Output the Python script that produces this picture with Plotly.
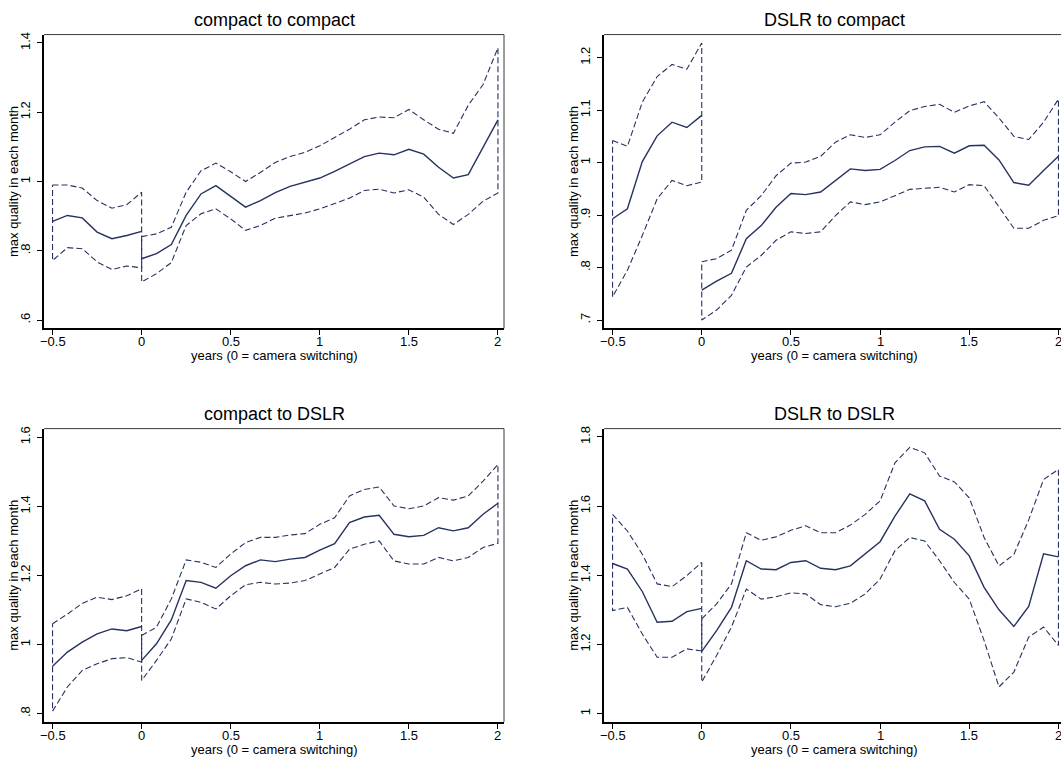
import plotly.graph_objects as go

# ---------------- data ----------------
MONTHS_PRE = [-6, -5, -4, -3, -2, -1, 0]
MONTHS_POST = list(range(0, 25))

TITLES = ["compact to compact", "DSLR to compact", "compact to DSLR", "DSLR to DSLR"]

# compact to compact
cc_pre_mid = [0.885, 0.902, 0.895, 0.854, 0.835, 0.844, 0.856]
cc_pre_up = [0.990, 0.990, 0.981, 0.945, 0.923, 0.933, 0.969]
cc_pre_lo = [0.772, 0.809, 0.806, 0.768, 0.746, 0.756, 0.751]
cc_post_mid = [0.777, 0.792, 0.818, 0.902, 0.964, 0.988, 0.957, 0.926, 0.945, 0.968, 0.986, 0.998,
               1.010, 1.029, 1.050, 1.072, 1.082, 1.077, 1.093, 1.079, 1.041, 1.010, 1.020, 1.100, 1.178]
cc_post_up = [0.841, 0.849, 0.868, 0.969, 1.031, 1.053, 1.028, 1.000, 1.026, 1.055, 1.072, 1.084,
              1.103, 1.127, 1.151, 1.178, 1.186, 1.184, 1.208, 1.178, 1.151, 1.139, 1.220, 1.280, 1.386]
cc_post_lo = [0.710, 0.734, 0.766, 0.873, 0.907, 0.921, 0.892, 0.859, 0.873, 0.894, 0.902, 0.909,
              0.921, 0.937, 0.952, 0.974, 0.978, 0.967, 0.976, 0.955, 0.905, 0.876, 0.905, 0.943, 0.967]

# DSLR to compact
dc_pre_mid = [0.893, 0.912, 1.002, 1.051, 1.077, 1.067, 1.090]
dc_pre_up = [1.042, 1.031, 1.115, 1.164, 1.187, 1.178, 1.228]
dc_pre_lo = [0.744, 0.795, 0.861, 0.931, 0.966, 0.956, 0.963]
dc_post_mid = [0.757, 0.774, 0.789, 0.855, 0.880, 0.915, 0.941, 0.939, 0.944, 0.966, 0.988, 0.985,
               0.987, 1.004, 1.023, 1.030, 1.031, 1.018, 1.032, 1.033, 1.005, 0.962, 0.957, 0.985, 1.012]
dc_post_up = [0.811, 0.817, 0.833, 0.909, 0.937, 0.975, 0.999, 1.001, 1.012, 1.039, 1.053, 1.048,
              1.053, 1.077, 1.099, 1.107, 1.111, 1.096, 1.108, 1.116, 1.085, 1.050, 1.044, 1.077, 1.121]
dc_post_lo = [0.700, 0.719, 0.747, 0.801, 0.823, 0.852, 0.868, 0.865, 0.868, 0.899, 0.925, 0.920,
              0.925, 0.937, 0.949, 0.951, 0.953, 0.944, 0.958, 0.956, 0.915, 0.875, 0.875, 0.890, 0.899]

# compact to DSLR
cd_pre_mid = [0.937, 0.978, 1.007, 1.031, 1.045, 1.040, 1.052]
cd_pre_up = [1.060, 1.088, 1.119, 1.137, 1.130, 1.141, 1.161]
cd_pre_lo = [0.807, 0.877, 0.925, 0.944, 0.959, 0.962, 0.949]
cd_post_mid = [0.954, 1.002, 1.071, 1.185, 1.180, 1.163, 1.199, 1.228, 1.245, 1.240, 1.247, 1.252,
               1.273, 1.292, 1.353, 1.369, 1.374, 1.319, 1.312, 1.316, 1.338, 1.329, 1.338, 1.377, 1.409]
cd_post_up = [1.026, 1.050, 1.132, 1.245, 1.238, 1.223, 1.262, 1.295, 1.310, 1.310, 1.317, 1.321,
              1.348, 1.367, 1.430, 1.449, 1.456, 1.401, 1.393, 1.401, 1.425, 1.418, 1.430, 1.473, 1.521]
cd_post_lo = [0.896, 0.954, 1.016, 1.132, 1.122, 1.103, 1.141, 1.173, 1.180, 1.175, 1.178, 1.185,
              1.204, 1.223, 1.276, 1.290, 1.300, 1.242, 1.233, 1.233, 1.252, 1.242, 1.252, 1.281, 1.293]

# DSLR to DSLR
dd_pre_mid = [1.434, 1.418, 1.353, 1.264, 1.267, 1.295, 1.304]
dd_pre_up = [1.576, 1.528, 1.461, 1.375, 1.367, 1.399, 1.437]
dd_pre_lo = [1.298, 1.307, 1.230, 1.163, 1.163, 1.187, 1.181]
dd_post_mid = [1.180, 1.240, 1.307, 1.442, 1.418, 1.416, 1.437, 1.442, 1.420, 1.416, 1.427, 1.461,
               1.497, 1.571, 1.635, 1.615, 1.533, 1.504, 1.456, 1.365, 1.300, 1.252, 1.310, 1.462, 1.453]
dd_post_up = [1.274, 1.317, 1.375, 1.523, 1.501, 1.511, 1.530, 1.543, 1.523, 1.523, 1.545, 1.576,
              1.615, 1.725, 1.770, 1.754, 1.687, 1.670, 1.624, 1.509, 1.427, 1.460, 1.560, 1.677, 1.706]
dd_post_lo = [1.091, 1.168, 1.250, 1.360, 1.331, 1.338, 1.349, 1.346, 1.315, 1.309, 1.319, 1.346,
              1.389, 1.471, 1.509, 1.499, 1.442, 1.379, 1.331, 1.211, 1.077, 1.120, 1.221, 1.250, 1.197]

X_TICKS = [-0.5, 0, 0.5, 1, 1.5, 2]
X_TICKTEXT = ["\u22120.5", "0", "0.5", "1", "1.5", "2"]
Y_TICKS = [[0.6, 0.8, 1.0, 1.2, 1.4],
           [0.7, 0.8, 0.9, 1.0, 1.1, 1.2],
           [0.8, 1.0, 1.2, 1.4, 1.6],
           [1.0, 1.2, 1.4, 1.6, 1.8]]
Y_TICKTEXT = [[".6", ".8", "1", "1.2", "1.4"],
              [".7", ".8", ".9", "1", "1.1", "1.2"],
              [".8", "1", "1.2", "1.4", "1.6"],
              ["1", "1.2", "1.4", "1.6", "1.8"]]

PANELS = [
    (cc_pre_mid, cc_pre_up, cc_pre_lo, cc_post_mid, cc_post_up, cc_post_lo),
    (dc_pre_mid, dc_pre_up, dc_pre_lo, dc_post_mid, dc_post_up, dc_post_lo),
    (cd_pre_mid, cd_pre_up, cd_pre_lo, cd_post_mid, cd_post_up, cd_post_lo),
    (dd_pre_mid, dd_pre_up, dd_pre_lo, dd_post_mid, dd_post_up, dd_post_lo),
]

# ---------------- layout geometry ----------------
W, H = 1061, 762
# pixel boxes (left, right, top, bottom)
BOXES = [(44, 504, 31.7, 326.7), (604, 1064.5, 31.7, 326.7),
         (44, 504, 427.3, 721.7), (604, 1064.5, 427.3, 721.7)]
X_RANGES = [[-0.548, 2.034], [-0.548, 2.034], [-0.548, 2.034], [-0.548, 2.034]]
Y_RANGES = [[0.576, 1.424], [0.684, 1.244], [0.776, 1.625], [0.976, 1.824]]

NAVY = "#26325f"
FONT = "Liberation Sans, Arial, sans-serif"

fig = go.Figure()
xpre = [m / 12 for m in MONTHS_PRE]
xpost = [m / 12 for m in MONTHS_POST]

layout_axes = {}
annotations = []
shapes = []
for i, (pm, pu, pl, qm, qu, ql) in enumerate(PANELS):
    k = "" if i == 0 else str(i + 1)
    xa, ya = "x" + k, "y" + k
    for xs, mid, up, lo in ((xpre, pm, pu, pl), (xpost, qm, qu, ql)):
        cx = list(xs) + list(xs[::-1]) + [xs[0]]
        cy = list(up) + list(lo[::-1]) + [up[0]]
        fig.add_trace(go.Scatter(x=cx, y=cy, mode="lines", xaxis=xa, yaxis=ya,
                                 line=dict(color=NAVY, width=1.1, dash="6px,3px"),
                                 showlegend=False, hoverinfo="skip"))
        fig.add_trace(go.Scatter(x=xs, y=mid, mode="lines", xaxis=xa, yaxis=ya,
                                 line=dict(color=NAVY, width=1.4),
                                 showlegend=False))
    L, R, T, B = BOXES[i]
    xr = list(X_RANGES[i])
    if R > W:
        span_per_px = (xr[1] - xr[0]) / (R - L)
        xr[1] = xr[0] + span_per_px * (W - L)
        R = W
    dx = [L / W, R / W]
    dy = [(H - B) / H, (H - T) / H]
    layout_axes["xaxis" + k] = dict(
        domain=dx, range=xr, anchor=ya, showgrid=False, zeroline=False,
        showline=True, linecolor="black", linewidth=1.5,
        ticks="outside", ticklen=5, tickwidth=1, tickcolor="black",
        tickvals=X_TICKS, showticklabels=False)
    layout_axes["yaxis" + k] = dict(
        domain=dy, range=Y_RANGES[i], anchor=xa, showgrid=False, zeroline=False,
        showline=True, linecolor="black", linewidth=1.5,
        ticks="outside", ticklen=5, tickwidth=1, tickcolor="black",
        tickvals=Y_TICKS[i], ticktext=Y_TICKTEXT[i], tickangle=-90,
        ticklabelstandoff=2,
        tickfont=dict(family=FONT, size=13, color="black"))
    # x tick labels placed in data coordinates of the axis
    for tv, tt in zip(X_TICKS, X_TICKTEXT):
        annotations.append(dict(text=tt, xref=xa, yref="paper", x=tv, y=(H - (B + 13.5)) / H,
                                xanchor="center", yanchor="middle", showarrow=False,
                                font=dict(family=FONT, size=13, color="black")))
    # top and right border
    shapes.append(dict(type="line", xref="paper", yref="paper",
                       x0=dx[0], x1=dx[1], y0=dy[1], y1=dy[1],
                       line=dict(color="#3a3a3a", width=1)))
    if BOXES[i][1] <= W:
        shapes.append(dict(type="line", xref="paper", yref="paper",
                           x0=dx[1], x1=dx[1], y0=dy[0], y1=dy[1],
                           line=dict(color="#3a3a3a", width=1)))
    cxp = (BOXES[i][0] + BOXES[i][1]) / 2
    annotations.append(dict(text=TITLES[i], xref="paper", yref="paper",
                            x=cxp / W, y=(H - (T - 14.5)) / H, xanchor="center", yanchor="middle",
                            showarrow=False, font=dict(family=FONT, size=18, color="black")))
    annotations.append(dict(text="years (0 = camera switching)", xref="paper", yref="paper",
                            x=cxp / W, y=(H - (B + 27.5)) / H, xanchor="center", yanchor="middle",
                            showarrow=False, font=dict(family=FONT, size=13, color="black")))
    annotations.append(dict(text="max quality in each month", xref="paper", yref="paper",
                            x=(L - 30.5) / W, y=(H - (T + B) / 2) / H, xanchor="center", yanchor="middle",
                            textangle=-90, showarrow=False,
                            font=dict(family=FONT, size=13, color="black")))

fig.update_layout(width=W, height=H, margin=dict(l=0, r=0, t=0, b=0),
                  paper_bgcolor="white", plot_bgcolor="white",
                  annotations=annotations, shapes=shapes, **layout_axes)

fig.write_html("out.html")
